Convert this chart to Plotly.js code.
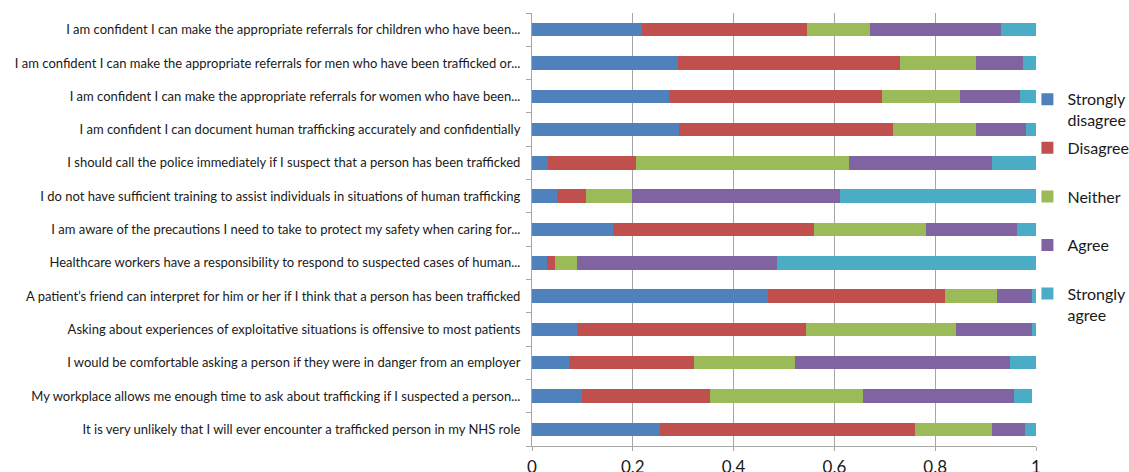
<!DOCTYPE html>
<html>
<head>
<meta charset="utf-8">
<script src="https://cdn.plot.ly/plotly-3.0.1.min.js"></script>
<style>html,body{margin:0;padding:0;background:#fff;}#chart{width:1129px;height:472px;}</style>
</head>
<body>
<div id="chart"></div>
<script>
// Categories, bottom to top
const statements = [
  "It is very unlikely that I will ever encounter a trafficked person in my NHS role",
  "My workplace allows me enough time to ask about trafficking if I suspected a person...",
  "I would be comfortable asking a person if they were in danger from an employer",
  "Asking about experiences of exploitative situations is offensive to most patients",
  "A patient\u2019s friend can interpret for him or her if I think that a person has been trafficked",
  "Healthcare workers have a responsibility to respond to suspected cases of human...",
  "I am aware of the precautions I need to take to protect my safety when caring for...",
  "I do not have sufficient training to assist individuals in situations of human trafficking",
  "I should call the police immediately if I suspect that a person has been trafficked",
  "I am confident I can document human trafficking accurately and confidentially",
  "I am confident I can make the appropriate referrals for women who have been...",
  "I am confident I can make the appropriate referrals for men who have been trafficked or...",
  "I am confident I can make the appropriate referrals for children who have been..."
];

const stronglyDisagree = [0.253, 0.100, 0.073, 0.090, 0.469, 0.029, 0.160, 0.050, 0.032, 0.291, 0.271, 0.290, 0.219];
const disagree         = [0.506, 0.253, 0.248, 0.454, 0.350, 0.017, 0.400, 0.057, 0.175, 0.425, 0.424, 0.440, 0.327];
const neither          = [0.153, 0.304, 0.200, 0.298, 0.103, 0.044, 0.221, 0.091, 0.421, 0.165, 0.155, 0.151, 0.124];
const agree            = [0.067, 0.299, 0.428, 0.151, 0.070, 0.397, 0.182, 0.413, 0.284, 0.100, 0.118, 0.093, 0.260];
const stronglyAgree    = [0.021, 0.037, 0.051, 0.007, 0.008, 0.513, 0.037, 0.389, 0.088, 0.019, 0.032, 0.026, 0.070];

const seriesNames = ["Strongly<br>disagree", "Disagree<br>&nbsp;", "Neither<br>&nbsp;", "Agree<br>&nbsp;", "Strongly<br>agree"];
const seriesColors = ["#4F81BD", "#C0504D", "#9BBB59", "#8064A2", "#4BACC6"];
const seriesValues = [stronglyDisagree, disagree, neither, agree, stronglyAgree];

const xTicks = [0, 0.2, 0.4, 0.6, 0.8, 1];

const traces = seriesValues.map((vals, i) => ({
  type: "bar",
  orientation: "h",
  y: statements,
  x: vals,
  name: seriesNames[i],
  legendgroup: "g" + i,
  marker: {color: seriesColors[i], line: {width: 0}},
  hoverinfo: "x+y"
}));

const layout = {
  width: 1129,
  height: 472,
  margin: {l: 532, r: 93, t: 13, b: 26, pad: 0, autoexpand: false},
  paper_bgcolor: "#ffffff",
  plot_bgcolor: "#ffffff",
  barmode: "stack",
  bargap: 0.595,
  font: {family: "Lato, 'Open Sans', sans-serif", color: "#1a1a1a"},
  xaxis: {
    range: [0, 1],
    tickvals: xTicks,
    ticktext: xTicks.map(v => String(v)),
    showgrid: true,
    gridcolor: "#A6A6A6",
    gridwidth: 1,
    zeroline: false,
    showline: true,
    linecolor: "#A6A6A6",
    ticks: "outside",
    ticklen: 4,
    tickcolor: "#A6A6A6",
    ticklabelstandoff: 2,
    tickfont: {size: 17, family: "Lato, sans-serif", color: "#1a1a1a"},
    fixedrange: true
  },
  yaxis: {
    type: "category",
    categoryorder: "array",
    categoryarray: statements,
    showline: true,
    linecolor: "#A6A6A6",
    ticks: "outside",
    tickson: "boundaries",
    ticklen: 5,
    tickcolor: "#A6A6A6",
    ticklabelstandoff: 8,
    showgrid: false,
    tickfont: {size: 13, family: "Lato, sans-serif", color: "#1a1a1a"},
    automargin: false,
    fixedrange: true
  },
  showlegend: true,
  legend: {
    x: 0.983,
    xanchor: "left",
    y: 0.84,
    yanchor: "top",
    bgcolor: "rgba(0,0,0,0)",
    traceorder: "grouped",
    tracegroupgap: 4,
    valign: "top",
    font: {size: 16, family: "Lato, sans-serif", color: "#1a1a1a"}
  }
};

Plotly.newPlot("chart", traces, layout, {displayModeBar: false, staticPlot: true});
</script>
</body>
</html>
